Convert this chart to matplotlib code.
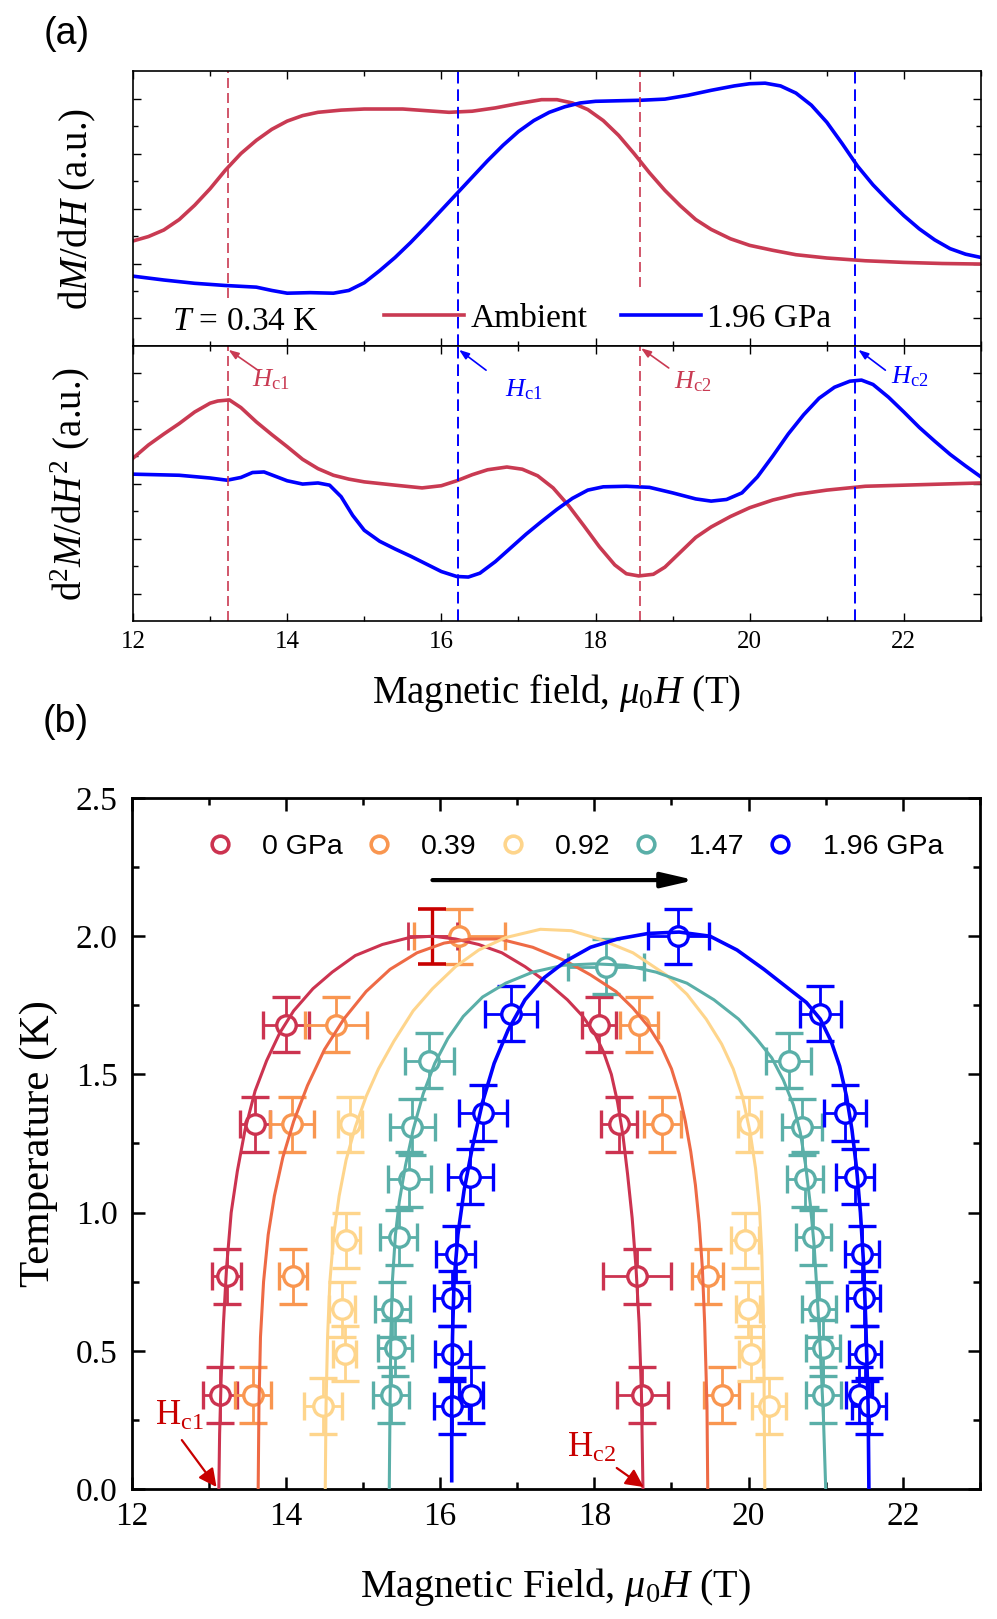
import numpy as np
import matplotlib
matplotlib.use('Agg')
import matplotlib.pyplot as plt
from matplotlib.lines import Line2D
from matplotlib.ticker import MultipleLocator

plt.rcParams['font.family'] = 'Liberation Serif'
plt.rcParams['mathtext.fontset'] = 'custom'
plt.rcParams['mathtext.rm'] = 'Liberation Serif'
plt.rcParams['mathtext.it'] = 'Liberation Serif:italic'
plt.rcParams['mathtext.bf'] = 'Liberation Serif:bold'

# ---------------- panel (a) data: dM/dH and d2M/dH2 at T = 0.34 K ----------------
amb_dm_H = [12.0, 12.2, 12.4, 12.6, 12.8, 13.0, 13.2, 13.4, 13.6, 13.8, 14.0, 14.2, 14.4,
            14.7, 15.0, 15.5, 15.8, 16.1, 16.4, 16.7, 17.0, 17.3, 17.5, 17.7, 17.9, 18.1,
            18.3, 18.5, 18.7, 18.9, 19.1, 19.3, 19.5, 19.75, 20.0, 20.3, 20.6, 21.0, 21.5,
            22.0, 22.5, 23.0]
amb_dm = [1.91, 1.99, 2.11, 2.30, 2.56, 2.86, 3.20, 3.50, 3.74, 3.94, 4.09, 4.19, 4.25,
          4.29, 4.31, 4.31, 4.28, 4.25, 4.27, 4.33, 4.41, 4.48, 4.48, 4.42, 4.30, 4.10,
          3.83, 3.50, 3.15, 2.83, 2.55, 2.30, 2.12, 1.95, 1.83, 1.74, 1.66, 1.60, 1.55,
          1.52, 1.50, 1.49]

p196_dm_H = [12.0, 12.4, 12.8, 13.2, 13.6, 13.8, 14.0, 14.3, 14.6, 14.8, 15.0, 15.2, 15.4,
             15.6, 15.8, 16.0, 16.2, 16.4, 16.6, 16.8, 17.0, 17.2, 17.4, 17.6, 17.8, 18.0,
             18.3, 18.6, 18.9, 19.2, 19.5, 19.8, 20.0, 20.2, 20.4, 20.6, 20.8, 21.0, 21.2,
             21.4, 21.6, 21.8, 22.0, 22.2, 22.4, 22.6, 22.8, 23.0]
p196_dm = [1.27, 1.20, 1.14, 1.10, 1.07, 1.01, 0.96, 0.97, 0.96, 1.01, 1.15, 1.37, 1.61,
           1.88, 2.17, 2.47, 2.77, 3.07, 3.37, 3.65, 3.90, 4.10, 4.25, 4.35, 4.42, 4.45,
           4.46, 4.47, 4.49, 4.56, 4.65, 4.73, 4.77, 4.78, 4.73, 4.60, 4.38, 4.07, 3.68,
           3.27, 2.93, 2.64, 2.37, 2.13, 1.93, 1.77, 1.67, 1.61]

amb_d2m_H = [12.0, 12.2, 12.4, 12.6, 12.8, 13.0, 13.1, 13.25, 13.4, 13.6, 13.8, 14.0, 14.2,
             14.4, 14.6, 14.8, 15.0, 15.4, 15.75, 16.0, 16.2, 16.4, 16.6, 16.85, 17.05,
             17.25, 17.45, 17.65, 17.85, 18.05, 18.25, 18.4, 18.56, 18.75, 18.9, 19.1, 19.3,
             19.5, 19.75, 20.0, 20.3, 20.6, 21.0, 21.5, 22.0, 22.5, 23.0]
amb_d2m = [2.96, 3.20, 3.40, 3.59, 3.80, 3.96, 4.00, 4.02, 3.88, 3.62, 3.39, 3.17, 2.94,
           2.77, 2.65, 2.58, 2.53, 2.47, 2.42, 2.46, 2.55, 2.66, 2.75, 2.80, 2.76,
           2.64, 2.42, 2.10, 1.73, 1.35, 1.02, 0.86, 0.82, 0.85, 0.98, 1.25, 1.52,
           1.71, 1.90, 2.06, 2.20, 2.30, 2.38, 2.45, 2.47, 2.49, 2.51]

p196_d2m_H = [12.0, 12.6, 13.0, 13.22, 13.4, 13.55, 13.7, 13.85, 14.0, 14.2, 14.4, 14.55,
              14.7, 14.85, 15.0, 15.2, 15.4, 15.6, 15.8, 16.0, 16.2, 16.35, 16.5, 16.7,
              16.9, 17.1, 17.3, 17.5, 17.7, 17.9, 18.1, 18.4, 18.7, 19.0, 19.3, 19.5, 19.7,
              19.9, 20.1, 20.3, 20.5, 20.7, 20.9, 21.1, 21.3, 21.45, 21.6, 21.8, 22.0, 22.2,
              22.4, 22.6, 22.8, 23.0]
p196_d2m = [2.67, 2.65, 2.60, 2.56, 2.61, 2.70, 2.71, 2.63, 2.55, 2.49, 2.51, 2.47,
            2.26, 1.92, 1.65, 1.45, 1.31, 1.18, 1.04, 0.90, 0.81, 0.80, 0.87, 1.08,
            1.33, 1.58, 1.81, 2.03, 2.23, 2.38, 2.44, 2.45, 2.43, 2.33, 2.22, 2.18, 2.21,
            2.33, 2.62, 3.00, 3.40, 3.75, 4.05, 4.25, 4.36, 4.38, 4.30, 4.07, 3.80, 3.52,
            3.27, 3.03, 2.82, 2.62]

amb_Hc = [13.23, 18.58]
p196_Hc = [16.22, 21.37]

# ---------------- panel (b) data: phase boundary points ----------------
labels_b = ['0 GPa', '0.39', '0.92', '1.47', '1.96 GPa']

H_0 = [13.14, 13.23, 13.60, 14.00, 18.06, 18.32, 18.55, 18.62]
T_0 = [0.34, 0.77, 1.32, 1.68, 1.68, 1.32, 0.77, 0.34]
Herr_0 = [0.22, 0.19, 0.19, 0.30, 0.22, 0.23, 0.44, 0.33]
top_H_0, top_T_0, top_Herr_0 = 15.90, 2.00, 0.32

H_039 = [13.57, 14.09, 14.08, 14.65, 16.25, 18.58, 18.88, 19.47, 19.65]
T_039 = [0.34, 0.77, 1.32, 1.68, 2.00, 1.68, 1.32, 0.77, 0.34]
Herr_039 = [0.23, 0.18, 0.29, 0.40, 0.59, 0.25, 0.24, 0.20, 0.23]

H_092 = [14.48, 14.76, 14.73, 14.78, 14.83, 20.01, 19.95, 19.99, 20.03, 20.27]
T_092 = [0.30, 0.49, 0.65, 0.90, 1.32, 1.32, 0.90, 0.65, 0.49, 0.30]
Herr_092 = [0.25, 0.15, 0.17, 0.18, 0.15, 0.15, 0.18, 0.16, 0.16, 0.22]

H_147 = [15.36, 15.41, 15.38, 15.46, 15.60, 15.64, 15.86, 18.15,
         20.52, 20.69, 20.73, 20.84, 20.91, 20.96, 20.97]
T_147 = [0.34, 0.51, 0.65, 0.91, 1.12, 1.31, 1.55, 1.89,
         1.55, 1.31, 1.12, 0.91, 0.65, 0.51, 0.34]
Herr_147 = [0.23, 0.22, 0.23, 0.24, 0.28, 0.29, 0.32, 0.49,
            0.29, 0.26, 0.23, 0.23, 0.22, 0.22, 0.23]

H_196 = [16.15, 16.40, 16.16, 16.15, 16.20, 16.39, 16.56, 16.92, 19.09,
         20.93, 21.25, 21.38, 21.47, 21.49, 21.51, 21.43, 21.56]
T_196 = [0.30, 0.34, 0.49, 0.69, 0.85, 1.13, 1.36, 1.72, 2.00,
         1.72, 1.36, 1.13, 0.85, 0.69, 0.49, 0.34, 0.30]
Herr_196 = [0.23, 0.16, 0.23, 0.23, 0.25, 0.29, 0.31, 0.34, 0.39,
            0.27, 0.27, 0.25, 0.22, 0.22, 0.21, 0.17, 0.22]
T_err = 0.1

# boundary lines
fitH_0 = [13.13, 13.14, 13.16, 13.19, 13.23, 13.29, 13.37, 13.47, 13.60, 13.75, 13.92, 14.1,
          14.35, 14.6, 14.9, 15.25, 15.6, 15.9, 16.2, 16.5, 16.8, 17.1, 17.4, 17.65, 17.85,
          18.0, 18.12, 18.22, 18.3, 18.37, 18.43, 18.49, 18.54, 18.58, 18.61, 18.63]
fitT_0 = [0.0, 0.2, 0.4, 0.6, 0.8, 1.0, 1.15, 1.30, 1.44, 1.55, 1.65, 1.73,
          1.81, 1.87, 1.93, 1.97, 1.995, 2.0, 1.99, 1.97, 1.94, 1.89, 1.83, 1.77, 1.71,
          1.65, 1.58, 1.50, 1.40, 1.28, 1.14, 0.98, 0.80, 0.60, 0.35, 0.0]
fitH_039 = [13.64, 13.65, 13.67, 13.71, 13.77, 13.85, 13.96, 14.1, 14.28, 14.5, 14.75, 15.04,
            15.35, 15.7, 16.05, 16.4, 16.77, 17.2, 17.63, 17.95, 18.28, 18.5, 18.71, 18.87,
            19.0, 19.1, 19.18, 19.25, 19.31, 19.36, 19.40, 19.43, 19.46, 19.47]
fitT_039 = [0.0, 0.3, 0.55, 0.75, 0.92, 1.06, 1.2, 1.33, 1.46, 1.59, 1.70, 1.80,
            1.88, 1.94, 1.975, 1.99, 1.99, 1.96, 1.91, 1.86, 1.80, 1.74, 1.67, 1.60,
            1.52, 1.43, 1.33, 1.22, 1.10, 0.96, 0.80, 0.6, 0.3, 0.0]
fitH_092 = [14.51, 14.52, 14.54, 14.57, 14.62, 14.69, 14.78, 14.9, 15.04, 15.2, 15.4, 15.65,
            15.9, 16.2, 16.5, 16.85, 17.3, 17.7, 18.06, 18.5, 18.93, 19.2, 19.45, 19.65,
            19.8, 19.92, 20.02, 20.09, 20.14, 20.17, 20.19, 20.20, 20.21]
fitT_092 = [0.0, 0.3, 0.55, 0.75, 0.92, 1.06, 1.19, 1.31, 1.42, 1.52, 1.62, 1.73,
            1.81, 1.89, 1.95, 1.995, 2.025, 2.02, 1.99, 1.94, 1.86, 1.79, 1.70, 1.61,
            1.52, 1.42, 1.29, 1.16, 1.02, 0.86, 0.65, 0.4, 0.0]
fitH_147 = [15.34, 15.35, 15.36, 15.38, 15.42, 15.47, 15.55, 15.65, 15.78, 15.93, 16.1, 16.3,
            16.55, 16.85, 17.2, 17.6, 18.0, 18.4, 18.8, 19.2, 19.55, 19.87, 20.1, 20.3,
            20.45, 20.58, 20.67, 20.74, 20.8, 20.85, 20.89, 20.93, 20.97, 21.0]
fitT_147 = [0.0, 0.3, 0.55, 0.75, 0.92, 1.04, 1.17, 1.30, 1.43, 1.54, 1.63, 1.71,
            1.78, 1.83, 1.87, 1.895, 1.90, 1.895, 1.87, 1.83, 1.77, 1.70, 1.63, 1.56,
            1.48, 1.39, 1.29, 1.17, 1.03, 0.88, 0.70, 0.5, 0.26, 0.0]
fitH_196 = [16.15, 16.15, 16.16, 16.18, 16.23, 16.31, 16.42, 16.55, 16.7, 16.88, 17.1, 17.35,
            17.63, 17.95, 18.3, 18.7, 19.1, 19.5, 19.85, 20.2, 20.52, 20.75, 20.93, 21.07,
            21.18, 21.27, 21.34, 21.40, 21.45, 21.49, 21.52, 21.55, 21.56]
fitT_196 = [0.03, 0.3, 0.55, 0.75, 0.92, 1.08, 1.24, 1.40, 1.54, 1.66, 1.77, 1.85,
            1.91, 1.96, 1.99, 2.01, 2.015, 2.0, 1.95, 1.88, 1.81, 1.76, 1.70, 1.62,
            1.53, 1.42, 1.30, 1.16, 1.0, 0.82, 0.6, 0.3, 0.0]

red_a = '#c93a52'
blue_a = '#0000ff'
cols_pt = ['#cc3350', '#f99650', '#fed58c', '#5aafa8', '#0000ff']
cols_ln = ['#cc3350', '#ee6a45', '#fed58c', '#5aafa8', '#0000ff']
dark_red = '#c80000'

fig = plt.figure(figsize=(9.97, 16.19), dpi=100)
ax1 = fig.add_axes([0.1334, 0.7863, 0.8505, 0.1698])
ax2 = fig.add_axes([0.1334, 0.6164, 0.8505, 0.1699])
ax3 = fig.add_axes([0.1321, 0.0803, 0.8508, 0.4268])

dash = (0, (6, 3))
for ax in (ax1, ax2):
    ax.set_xlim(12, 23)
    ax.set_ylim(0, 5)
    ax.xaxis.set_major_locator(MultipleLocator(2))
    ax.xaxis.set_minor_locator(MultipleLocator(1))
    ax.set_yticks([0.5, 1.5, 2.5, 3.5, 4.5])
    ax.set_yticks([1, 2, 3, 4], minor=True)
    ax.tick_params(which='both', direction='in', top=True, right=True, width=1.0,
                   labelleft=False, labelsize=18, pad=7)
    ax.tick_params(which='major', length=6)
    ax.tick_params(which='minor', length=3.5)
    for s in ax.spines.values():
        s.set_linewidth(1.2)
ax1.tick_params(labelbottom=False)

ax1.plot(amb_dm_H, amb_dm, color=red_a, lw=2.6, label='Ambient')
ax1.plot(p196_dm_H, p196_dm, color=blue_a, lw=2.6, label='1.96 GPa')
ax1.axvline(amb_Hc[0], ymin=0.175, color=red_a, lw=1.2, ls=dash)
ax1.axvline(amb_Hc[1], ymin=0.215, color=red_a, lw=1.2, ls=dash)
for h in p196_Hc:
    ax1.axvline(h, color=blue_a, lw=1.4, ls=dash)
ax1.legend(loc='center left', bbox_to_anchor=(0.276, 0.10), ncol=2, frameon=False,
           fontsize=24, borderpad=0, handlelength=2.4, handletextpad=0.2,
           columnspacing=1.0)
ax1.text(0.046, 0.088, r'$T$ = 0.34 K', transform=ax1.transAxes, fontsize=24,
         ha='left', va='center')
ax1.set_ylabel(r'd$M$/d$H$ (a.u.)', fontsize=28)
ax1.yaxis.set_label_coords(-0.065, 0.5)
ax1.yaxis.label.set_va('center')

ax2.plot(amb_d2m_H, amb_d2m, color=red_a, lw=2.6)
ax2.plot(p196_d2m_H, p196_d2m, color=blue_a, lw=2.6)
for h in amb_Hc:
    ax2.axvline(h, color=red_a, lw=1.2, ls=dash)
for h in p196_Hc:
    ax2.axvline(h, color=blue_a, lw=1.4, ls=dash)
ax2.set_ylabel(r'd$^2$$M$/d$H^2$ (a.u.)', fontsize=28)
ax2.yaxis.set_label_coords(-0.074, 0.5)
ax2.yaxis.label.set_va('center')
ax2.set_xlabel(r'Magnetic field, $\mu_{\mathit{0}}H$ (T)', fontsize=28)
ax2.xaxis.set_label_coords(0.5, -0.185)

hc_notes = [(r'$H_{\rm c1}$', red_a, (13.55, 4.38), (13.62, 4.56), (13.24, 4.93)),
            (r'$H_{\rm c1}$', blue_a, (16.83, 4.20), (16.58, 4.56), (16.23, 4.93)),
            (r'$H_{\rm c2}$', red_a, (19.02, 4.35), (18.95, 4.60), (18.59, 4.96)),
            (r'$H_{\rm c2}$', blue_a, (21.83, 4.45), (21.76, 4.56), (21.41, 4.93))]
for txt, c, tpos, a0, a1 in hc_notes:
    ax2.text(tpos[0], tpos[1], txt, color=c, fontsize=19, ha='left', va='center')
    ax2.annotate('', xy=a1, xytext=a0,
                 arrowprops=dict(arrowstyle='-|>,head_length=0.5,head_width=0.18',
                                 color=c, lw=1.2, mutation_scale=12,
                                 shrinkA=0, shrinkB=0))

fig.text(67 / 997, 1 - 34 / 1619, '(a)', family='Liberation Sans', fontsize=27,
         ha='center', va='center')
fig.text(66 / 997, 1 - 722 / 1619, '(b)', family='Liberation Sans', fontsize=27,
         ha='center', va='center')

# ---------------- panel (b) ----------------
series = [(H_0, T_0, Herr_0), (H_039, T_039, Herr_039), (H_092, T_092, Herr_092),
          (H_147, T_147, Herr_147), (H_196, T_196, Herr_196)]
fits = [(fitH_0, fitT_0), (fitH_039, fitT_039), (fitH_092, fitT_092),
        (fitH_147, fitT_147), (fitH_196, fitT_196)]

for i, (hh, tt, he) in enumerate(series):
    ax3.errorbar(hh, tt, xerr=he, yerr=T_err, fmt='o', ms=14, mfc='white',
                 mec=cols_pt[i], mew=2.4, ecolor=cols_pt[i], elinewidth=2.0,
                 capsize=10, capthick=2.0, zorder=2)
for i, (fh, ft) in enumerate(fits):
    lw = 2.6 if i == 4 else 2.2
    ax3.plot(fh, ft, color=cols_ln[i], lw=lw, zorder=3)
ax3.errorbar([top_H_0], [top_T_0], xerr=top_Herr_0, fmt='none', ecolor=cols_pt[0],
             elinewidth=2.0, capsize=10, capthick=2.0, zorder=2)
ax3.errorbar([top_H_0], [top_T_0], yerr=T_err, fmt='none', ecolor=dark_red,
             elinewidth=2.4, capsize=10, capthick=2.6, zorder=2)

ax3.set_xlim(12, 23)
ax3.set_ylim(0, 2.5)
ax3.xaxis.set_major_locator(MultipleLocator(2))
ax3.xaxis.set_minor_locator(MultipleLocator(1))
ax3.yaxis.set_major_locator(MultipleLocator(0.5))
ax3.yaxis.set_minor_locator(MultipleLocator(0.25))
ax3.set_yticks([0, 0.5, 1.0, 1.5, 2.0, 2.5])
ax3.set_yticklabels(['0.0', '0.5', '1.0', '1.5', '2.0', '2.5'])
ax3.tick_params(which='both', direction='in', top=True, right=True, width=1.8,
                labelsize=24)
ax3.tick_params(axis='x', which='both', pad=9)
ax3.tick_params(axis='y', which='both', pad=10)
ax3.tick_params(which='major', length=9)
ax3.tick_params(which='minor', length=5)
for s in ax3.spines.values():
    s.set_linewidth(2.0)

handles = [Line2D([], [], ls='none', marker='o', ms=12, mfc='white', mec=c, mew=2.6)
           for c in cols_pt]
leg = ax3.legend(handles, labels_b, loc='center left', bbox_to_anchor=(0.070, 0.929),
                 ncol=5, frameon=False, borderpad=0, handlelength=1.0,
                 handletextpad=1.0, columnspacing=0.75,
                 prop={'family': 'Liberation Sans', 'size': 20.5})

ax3.annotate('', xy=(19.30, 2.203), xytext=(15.90, 2.203),
             arrowprops=dict(arrowstyle='-|>,head_length=0.65,head_width=0.15',
                             color='black', lw=3, mutation_scale=30,
                             shrinkA=0, shrinkB=0))

ax3.text(12.30, 0.232, r'H$_{\rm c1}$', color=dark_red, fontsize=25, ha='left',
         va='baseline')
ax3.annotate('', xy=(13.10, 0.007), xytext=(12.65, 0.177),
             arrowprops=dict(arrowstyle='-|>,head_length=0.6,head_width=0.3',
                             color=dark_red, lw=1.6, mutation_scale=18,
                             shrinkA=0, shrinkB=0))
ax3.text(17.65, 0.116, r'H$_{\rm c2}$', color=dark_red, fontsize=25, ha='left',
         va='baseline')
ax3.annotate('', xy=(18.64, 0.007), xytext=(18.29, 0.076),
             arrowprops=dict(arrowstyle='-|>,head_length=0.6,head_width=0.3',
                             color=dark_red, lw=1.6, mutation_scale=18,
                             shrinkA=0, shrinkB=0))

ax3.set_xlabel(r'Magnetic Field, $\mu_{\mathit{0}}H$ (T)', fontsize=29)
ax3.xaxis.set_label_coords(0.5, -0.111)
ax3.set_ylabel('Temperature (K)', fontsize=31)
ax3.yaxis.set_label_coords(-0.109, 0.5)
ax3.yaxis.label.set_va('center')

fig.savefig('out.png', dpi=100)
